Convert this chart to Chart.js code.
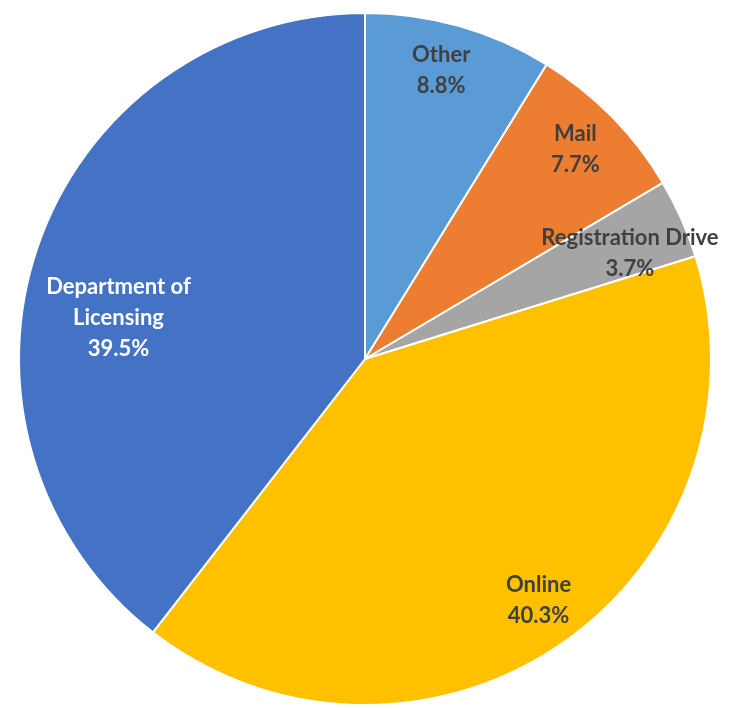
<!DOCTYPE html>
<html lang="en">
<head>
    <meta charset="UTF-8">
    <title>Registration Channels</title>
    <script src="https://cdn.jsdelivr.net/npm/chart.js"></script>
    <style>
        html, body {
            margin: 0;
            background: #ffffff;
        }
        .chart-wrap {
            width: 737px;
            height: 710px;
        }
    </style>
</head>
<body>
<div class="chart-wrap">
    <canvas id="channel-pie"></canvas>
</div>

<script>
    // data, clockwise from 12 o'clock
    const categories = ['Other', 'Mail', 'Registration Drive', 'Online', ['Department of', 'Licensing']];
    const shares = [8.8, 7.7, 3.7, 40.3, 39.5];

    const sliceColors = ['#5B9BD5', '#ED7D31', '#A5A5A5', '#FFC000', '#4472C4'];
    const labelColors = ['#404040', '#404040', '#404040', '#404040', '#ffffff'];
    // nudges (px) applied after placing each label at 86% of the radius
    const labelNudge = [[-5, -2], [-2, -1], [-7, 15], [4, -3], [35, 55]];

    const sliceLabels = {
        id: 'sliceLabels',
        afterDatasetsDraw(chart) {
            const ctx = chart.ctx;
            const meta = chart.getDatasetMeta(0);
            const fontSize = 22;
            const lineGap = 31;
            ctx.save();
            ctx.font = 'bold ' + fontSize + 'px Lato, "Open Sans", sans-serif';
            ctx.textAlign = 'center';
            ctx.textBaseline = 'middle';
            meta.data.forEach((arc, i) => {
                const p = arc.getProps(['x', 'y', 'startAngle', 'endAngle', 'outerRadius'], true);
                const mid = (p.startAngle + p.endAngle) / 2;
                const r = p.outerRadius * 0.86;
                const cx = p.x + Math.cos(mid) * r + labelNudge[i][0];
                const cy = p.y + Math.sin(mid) * r + labelNudge[i][1];
                const name = chart.data.labels[i];
                const lines = (Array.isArray(name) ? name.slice() : [name]);
                lines.push(chart.data.datasets[0].data[i].toFixed(1) + '%');
                const top = cy - (lines.length - 1) * lineGap / 2;
                ctx.fillStyle = labelColors[i];
                lines.forEach((t, k) => ctx.fillText(t, cx, top + k * lineGap));
            });
            ctx.restore();
        }
    };

    new Chart(document.getElementById('channel-pie'), {
        type: 'pie',
        data: {
            labels: categories,
            datasets: [{
                data: shares,
                backgroundColor: sliceColors,
                borderColor: '#ffffff',
                borderWidth: 2
            }]
        },
        options: {
            responsive: true,
            maintainAspectRatio: false,
            animation: false,
            layout: { padding: { left: 18, right: 25, top: 12, bottom: 4 } },
            plugins: {
                legend: { display: false },
                tooltip: { enabled: false }
            }
        },
        plugins: [sliceLabels]
    });
</script>
</body>
</html>
